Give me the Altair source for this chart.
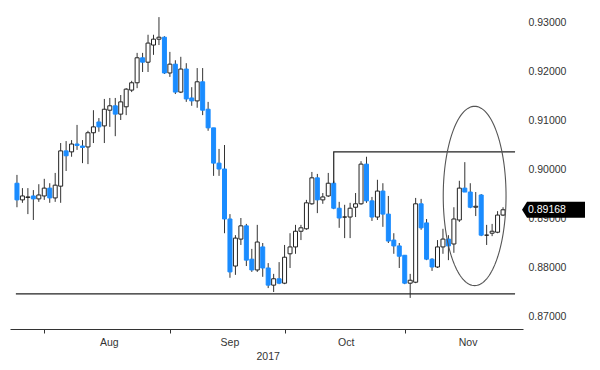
import altair as alt
import numpy as np
import pandas as pd

# ---- data (EUR/GBP style daily candles, 25 Jul - 24 Nov 2017) ----
opens = [0.8971, 0.8937, 0.8942, 0.8945, 0.8939, 0.8945, 0.8961, 0.8941, 0.8965, 0.9037,
         0.9035, 0.9051, 0.9047, 0.9045, 0.9074, 0.9096, 0.9088, 0.9120, 0.9129, 0.9112,
         0.9127, 0.9161, 0.9176, 0.9227, 0.9218, 0.9253, 0.9265, 0.9269, 0.9196, 0.9214,
         0.9157, 0.9204, 0.9145, 0.9139, 0.9178, 0.9122, 0.9084, 0.9012, 0.9000, 0.8898,
         0.8802, 0.8857, 0.8884, 0.8816, 0.8794, 0.8841, 0.8798, 0.8763, 0.8776, 0.8767,
         0.8827, 0.8841, 0.8873, 0.8878, 0.8929, 0.8982, 0.8937, 0.8945, 0.8971, 0.8920,
         0.8902, 0.8902, 0.8922, 0.8929, 0.9010, 0.8935, 0.8902, 0.8955, 0.8908, 0.8855,
         0.8843, 0.8824, 0.8767, 0.8769, 0.8929, 0.8890, 0.8816, 0.8800, 0.8841, 0.8857,
         0.8847, 0.8896, 0.8961, 0.8953, 0.8922, 0.8947, 0.8865, 0.8869, 0.8871, 0.8906]
highs = [0.8988, 0.8961, 0.8961, 0.8957, 0.8969, 0.8980, 0.8971, 0.8992, 0.9053, 0.9057,
         0.9059, 0.9090, 0.9059, 0.9078, 0.9120, 0.9104, 0.9143, 0.9145, 0.9145, 0.9151,
         0.9165, 0.9180, 0.9237, 0.9237, 0.9274, 0.9274, 0.9310, 0.9271, 0.9239, 0.9222,
         0.9229, 0.9216, 0.9167, 0.9206, 0.9206, 0.9137, 0.9084, 0.9041, 0.9049, 0.8908,
         0.8865, 0.8900, 0.8888, 0.8837, 0.8886, 0.8849, 0.8808, 0.8786, 0.8810, 0.8845,
         0.8869, 0.8886, 0.8886, 0.8937, 0.8994, 0.8990, 0.8951, 0.8992, 0.8976, 0.8933,
         0.8927, 0.8931, 0.8951, 0.9016, 0.9025, 0.8943, 0.8978, 0.8971, 0.8945, 0.8869,
         0.8849, 0.8824, 0.8786, 0.8941, 0.8939, 0.8898, 0.8818, 0.8855, 0.8878, 0.8865,
         0.8922, 0.8976, 0.9014, 0.8971, 0.8953, 0.8949, 0.8886, 0.8888, 0.8914, 0.8922]
lows = [0.8922, 0.8931, 0.8908, 0.8896, 0.8933, 0.8937, 0.8931, 0.8933, 0.8931, 0.8996,
        0.9025, 0.9039, 0.9012, 0.9010, 0.9053, 0.9076, 0.9053, 0.9086, 0.9067, 0.9100,
        0.9110, 0.9157, 0.9165, 0.9198, 0.9198, 0.9233, 0.9253, 0.9194, 0.9188, 0.9153,
        0.9155, 0.9137, 0.9129, 0.9125, 0.9110, 0.9078, 0.8986, 0.8986, 0.8869, 0.8778,
        0.8784, 0.8845, 0.8802, 0.8790, 0.8790, 0.8780, 0.8757, 0.8749, 0.8765, 0.8765,
        0.8798, 0.8827, 0.8855, 0.8876, 0.8927, 0.8910, 0.8929, 0.8943, 0.8918, 0.8880,
        0.8859, 0.8859, 0.8902, 0.8927, 0.8931, 0.8894, 0.8896, 0.8882, 0.8849, 0.8827,
        0.8798, 0.8765, 0.8737, 0.8767, 0.8876, 0.8814, 0.8792, 0.8798, 0.8827, 0.8814,
        0.8829, 0.8892, 0.8959, 0.8920, 0.8904, 0.8863, 0.8845, 0.8863, 0.8869, 0.8904]
closes = [0.8937, 0.8945, 0.8943, 0.8939, 0.8947, 0.8961, 0.8941, 0.8967, 0.9037, 0.9027,
          0.9051, 0.9048, 0.9044, 0.9074, 0.9086, 0.9086, 0.9122, 0.9129, 0.9112, 0.9137,
          0.9163, 0.9176, 0.9227, 0.9218, 0.9257, 0.9265, 0.9269, 0.9196, 0.9214, 0.9157,
          0.9204, 0.9143, 0.9139, 0.9178, 0.9120, 0.9084, 0.9012, 0.9000, 0.8898, 0.8790,
          0.8859, 0.8884, 0.8814, 0.8794, 0.8851, 0.8798, 0.8763, 0.8776, 0.8767, 0.8820,
          0.8841, 0.8873, 0.8880, 0.8931, 0.8982, 0.8937, 0.8943, 0.8971, 0.8920, 0.8900,
          0.8902, 0.8920, 0.8929, 0.9010, 0.8935, 0.8902, 0.8955, 0.8908, 0.8853, 0.8843,
          0.8822, 0.8767, 0.8773, 0.8929, 0.8880, 0.8816, 0.8800, 0.8841, 0.8857, 0.8843,
          0.8898, 0.8961, 0.8953, 0.8922, 0.8924, 0.8865, 0.8865, 0.8873, 0.8906, 0.89168]

month_names = ["Aug", "Sep", "Oct", "Nov"]
month_start_idx = [5, 28, 49, 71]
month_label_idx = [16.9, 39.0, 60.3, 82.6]
year_text = ["2017"]
year_label_idx = [46]
y_ticks = [0.87, 0.88, 0.89, 0.90, 0.91, 0.92, 0.93]

support_x = [-0.2, 91.2]
support_y = [0.8745, 0.8745]
resist_x = [58, 58, 91.2]
resist_y = [0.8971, 0.9035, 0.9035]

ellipse_center = [83.8, 0.8945]
ellipse_radii = [5.75, 0.0183]

last_price = [0.89168]
last_price_text = ["0.89168"]

# ---- tables ----
df = pd.DataFrame({"i": list(range(len(opens))), "open": opens, "high": highs,
                   "low": lows, "close": closes})
df["dir"] = np.where(df["close"] >= df["open"], "up", "down")

W, H = 513, 321
BLUE = "#1a8cff"
FONT = "Liberation Sans"

xs = alt.Scale(domain=[-0.36, 91.74], nice=False, zero=False)
ys = alt.Scale(domain=[0.86735, 0.93286], nice=False, zero=False)

xaxis = alt.Axis(values=month_start_idx, labels=False, tickSize=4, title=None,
                 grid=False, domainColor="#333", tickColor="#333")
yaxis = alt.Axis(values=y_ticks, format=".5f", orient="right", tickSize=0, domain=False,
                 grid=False, title=None, labelPadding=5, labelFont=FONT,
                 labelFontSize=10.5, labelColor="#333")

wicks = alt.Chart(df).mark_rule(color="#333", strokeWidth=1).encode(
    x=alt.X("i:Q", scale=xs, axis=xaxis),
    y=alt.Y("low:Q", scale=ys, axis=yaxis),
    y2="high:Q",
)

bodies = alt.Chart(df).mark_bar(width=4, strokeWidth=1).encode(
    x=alt.X("i:Q", scale=xs),
    y=alt.Y("open:Q", scale=ys),
    y2="close:Q",
    fill=alt.Fill("dir:N", scale=alt.Scale(domain=["up", "down"], range=["white", BLUE]), legend=None),
    stroke=alt.Stroke("dir:N", scale=alt.Scale(domain=["up", "down"], range=["#222", BLUE]), legend=None),
)

sup_df = pd.DataFrame({"x": support_x, "y": support_y, "k": range(len(support_x))})
support = alt.Chart(sup_df).mark_line(color="#222", strokeWidth=1.2).encode(
    x=alt.X("x:Q", scale=xs), y=alt.Y("y:Q", scale=ys), order="k:Q")

res_df = pd.DataFrame({"x": resist_x, "y": resist_y, "k": range(len(resist_x))})
resist = alt.Chart(res_df).mark_line(color="#222", strokeWidth=1.2).encode(
    x=alt.X("x:Q", scale=xs), y=alt.Y("y:Q", scale=ys), order="k:Q")

t = np.linspace(0, 2 * np.pi, 145)
ell_df = pd.DataFrame({"x": ellipse_center[0] + ellipse_radii[0] * np.cos(t),
                       "y": ellipse_center[1] + ellipse_radii[1] * np.sin(t),
                       "k": range(len(t))})
ellipse = alt.Chart(ell_df).mark_line(color="#555", strokeWidth=1.1).encode(
    x=alt.X("x:Q", scale=xs), y=alt.Y("y:Q", scale=ys), order="k:Q")

mon_df = pd.DataFrame({"x": month_label_idx, "t": month_names})
months = alt.Chart(mon_df).mark_text(font=FONT, fontSize=10.5, color="#333",
                                     baseline="middle", align="center").encode(
    x=alt.X("x:Q", scale=xs), y=alt.value(H + 14), text="t:N")

yr_df = pd.DataFrame({"x": year_label_idx, "t": year_text})
year = alt.Chart(yr_df).mark_text(font=FONT, fontSize=10.5, color="#333",
                                  baseline="middle", align="center").encode(
    x=alt.X("x:Q", scale=xs), y=alt.value(H + 28), text="t:N")

lp_df = pd.DataFrame({"p": last_price, "t": last_price_text})
box = alt.Chart(lp_df).mark_point(shape="M0,0L5,-8L63,-8L63,8L5,8Z", size=4, filled=True,
                                  fill="black", opacity=1, strokeWidth=0).encode(
    x=alt.value(W - 1), y=alt.Y("p:Q", scale=ys))
box_text = alt.Chart(lp_df).mark_text(font=FONT, fontSize=10.5, color="white",
                                      align="left", baseline="middle").encode(
    x=alt.value(W + 5), y=alt.Y("p:Q", scale=ys), text="t:N")

chart = alt.layer(wicks, bodies, support, resist, ellipse, months, year, box, box_text).properties(
    width=W, height=H,
    padding={"left": 2, "top": 0, "right": 0, "bottom": 0},
).configure_view(stroke=None).resolve_scale(fill="independent", stroke="independent")

chart.save("out.html", embed_options={"renderer": "svg", "actions": False})
